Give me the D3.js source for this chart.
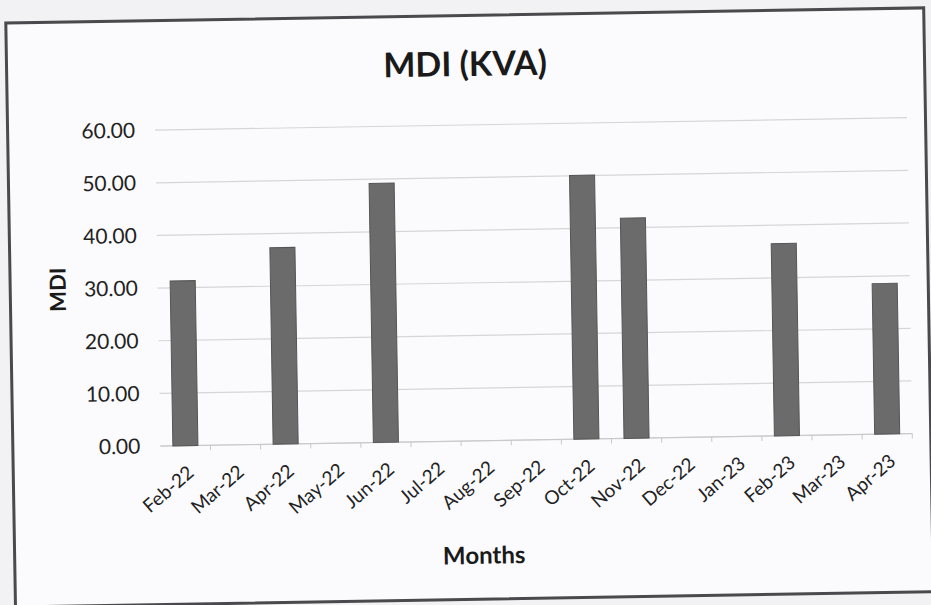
<!DOCTYPE html>
<html>
<head>
<meta charset="utf-8">
<script src="https://cdn.jsdelivr.net/npm/d3@7"></script>
<style>
  html, body { margin: 0; padding: 0; background: #f2f2f4; }
  svg { display: block; }
</style>
</head>
<body>
<svg id="chart" width="931" height="605"></svg>
<script>
const months = ["Feb-22","Mar-22","Apr-22","May-22","Jun-22","Jul-22","Aug-22","Sep-22","Oct-22","Nov-22","Dec-22","Jan-23","Feb-23","Mar-23","Apr-23"];
const mdiValues = [31.3, null, 37.3, null, 49.2, null, null, null, 50.1, 41.8, null, null, 36.5, null, 28.6];
const yTicks = [0, 10, 20, 30, 40, 50, 60];
const titleText = "MDI (KVA)";
const yTitle = "MDI";
const xTitle = "Months";

const W = 931, H = 605;
const margin = { left: 158, right: 21, top: 125, bottom: 164 };
const svg = d3.select("#chart");
const font = "Lato, 'Open Sans', sans-serif";

svg.append("rect").attr("x", 0).attr("y", 0).attr("width", W).attr("height", H).attr("fill", "#f2f2f4");
const root = svg.append("g").attr("transform", `rotate(-0.95, ${W/2}, ${H/2})`);
root.append("rect").attr("x", 10.5).attr("y", 15.5).attr("width", 918).attr("height", 584)
  .attr("fill", "#fbfbfd").attr("stroke", "#4a4a4e").attr("stroke-width", 3);

const x = d3.scaleBand().domain(months).range([margin.left, W - margin.right]).paddingInner(0.5).paddingOuter(0.25);
const y = d3.scaleLinear().domain([0, 60]).range([H - margin.bottom, margin.top]);

// gridlines
root.append("g").selectAll("line").data(yTicks).join("line")
  .attr("x1", margin.left).attr("x2", W - margin.right)
  .attr("y1", d => y(d)).attr("y2", d => y(d))
  .attr("stroke", "#d6d6da").attr("stroke-width", 1.2);

// y labels
const yAxis = d3.axisLeft(y).tickValues(yTicks).tickFormat(d3.format(".2f")).tickSize(0).tickPadding(20);
const yg = root.append("g").attr("transform", `translate(${margin.left},0)`).call(yAxis);
yg.select(".domain").remove();
yg.selectAll("text").attr("font-family", font).attr("font-size", 21).attr("fill", "#222");

// x axis
const xAxis = d3.axisBottom(x).tickSize(5).tickSizeOuter(0);
const xg = root.append("g").attr("transform", `translate(0,${y(0)})`).call(xAxis);
xg.select(".domain").attr("stroke", "#c8c8cc").attr("d", `M${margin.left},0H${W - margin.right}`);
xg.selectAll(".tick line").attr("stroke", "#c8c8cc").attr("transform", `translate(${x.step()/2},0)`);
xg.selectAll("text").attr("font-family", font).attr("font-size", 19).attr("fill", "#222")
  .attr("text-anchor", "end").attr("x", 0).attr("y", 0).attr("dy", "0.35em")
  .attr("transform", "translate(5,24) rotate(-40)");

// bars
root.append("g").selectAll("rect").data(months.map((m, i) => ({ m, v: mdiValues[i] })).filter(d => d.v != null))
  .join("rect")
  .attr("x", d => x(d.m)).attr("width", x.bandwidth())
  .attr("y", d => y(d.v)).attr("height", d => y(0) - y(d.v))
  .attr("fill", "#6b6b6b").attr("stroke", "#555").attr("stroke-width", 1);

// titles
root.append("text").attr("x", 469).attr("y", 76).attr("text-anchor", "middle")
  .attr("font-family", font).attr("font-weight", "bold").attr("font-size", 34).attr("fill", "#1a1a1a").text(titleText);
root.append("text").attr("transform", `translate(66,${(y(0)+y(60))/2}) rotate(-90)`).attr("text-anchor", "middle")
  .attr("font-family", font).attr("font-weight", "bold").attr("font-size", 22).attr("fill", "#1a1a1a").text(yTitle);
root.append("text").attr("x", 480).attr("y", 564).attr("text-anchor", "middle")
  .attr("font-family", font).attr("font-weight", "bold").attr("font-size", 24).attr("fill", "#1a1a1a").text(xTitle);
</script>
</body>
</html>
